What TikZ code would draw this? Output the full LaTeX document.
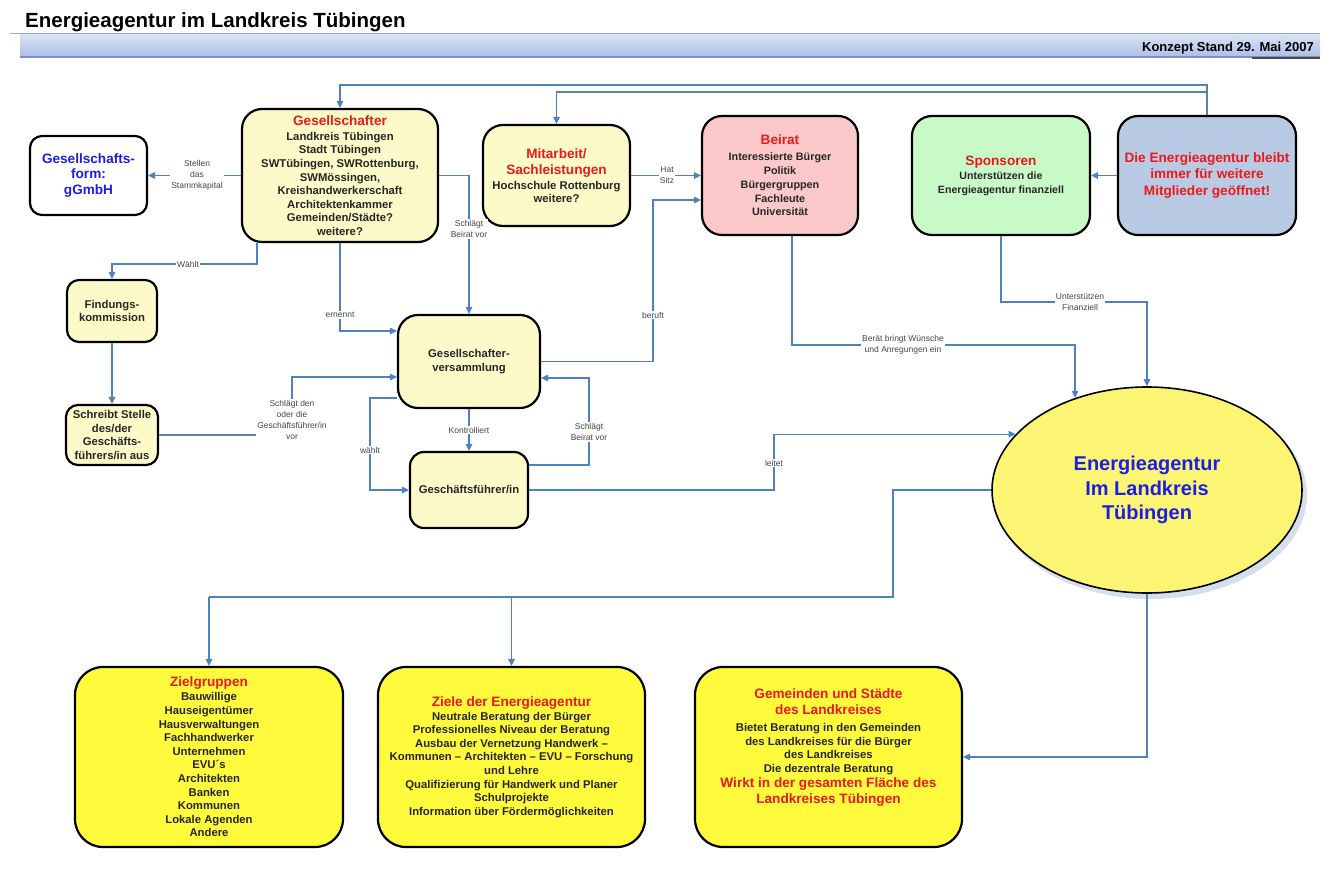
\documentclass[tikz,border=0pt]{standalone}
\usepackage{fontspec}
\setmainfont{Liberation Sans}
\usetikzlibrary{shapes.geometric,arrows.meta}
\definecolor{ablue}{RGB}{79,129,189}
\definecolor{tred}{RGB}{235,25,25}
\definecolor{tblue}{RGB}{30,30,225}
\definecolor{lyel}{RGB}{252,250,200}
\definecolor{pinkf}{RGB}{250,200,200}
\definecolor{greenf}{RGB}{200,250,200}
\definecolor{bluef}{RGB}{184,202,228}
\definecolor{yelf}{RGB}{255,250,60}
\definecolor{ellf}{RGB}{252,245,115}
\definecolor{lblc}{RGB}{70,70,70}
\definecolor{hdtop}{RGB}{218,228,245}
\definecolor{hdbot}{RGB}{172,190,230}
\definecolor{hdline}{RGB}{150,165,210}
\definecolor{hdline2}{RGB}{130,140,210}
\definecolor{shad}{RGB}{215,222,235}
\newcommand\rt[1]{{\color{tred}\fontsize{13.6}{16}\selectfont #1}}
\begin{document}
\begin{tikzpicture}[x=1pt,y=-1pt,
 box/.style={draw=black, line width=2.2pt, rounded corners=20pt, align=center, inner sep=0pt,
   font=\bfseries\fontsize{11.3}{13.6}\selectfont, text=black!85},
 txt/.style={align=center, inner sep=0pt, font=\bfseries\fontsize{11.3}{13.6}\selectfont, text=black!85},
 conn/.style={draw=ablue, line width=1.3pt, -{Triangle[length=7pt,width=6.5pt]}},
 plain/.style={draw=ablue, line width=1.3pt},
 lbl/.style={font=\fontsize{8.5}{11}\selectfont, text=lblc, fill=white, inner sep=1pt, align=center},
]
\useasboundingbox (0,0) rectangle (1330,874);
\fill[white] (0,0) rectangle (1330,874);

% header
\shade[top color=hdtop, bottom color=hdbot] (20,34) rectangle (1320,57);
\draw[hdline, line width=1pt] (10,33.5) -- (1320,33.5);
\draw[hdline2, line width=1.2pt] (20,57) -- (1320,57);
\draw[black!70, line width=2pt] (1252,58) -- (1320,58);
\node[anchor=base west, inner sep=0pt, font=\bfseries\fontsize{20.5}{24}\selectfont] (title) at (25,28) {Energieagentur im Landkreis Tübingen};
\node[anchor=base east, inner sep=0pt, font=\bfseries\fontsize{13}{15}\selectfont] (stand) at (1314,52) {Konzept Stand 29. Mai 2007};

% top row
\node[box, rounded corners=12pt, fill=white, minimum width=117pt, minimum height=79pt, text=tblue,
  font=\bfseries\fontsize{13.6}{15.5}\selectfont] (gform) at (88.5,175.5) {Gesellschafts-\\form:\\gGmbH};
\node[box, fill=lyel, minimum width=196pt, minimum height=133pt] (gesell) at (340,175.5)
 {\rt{Gesellschafter}\\[1.4pt] Landkreis Tübingen\\ Stadt Tübingen\\ SWTübingen, SWRottenburg,\\ SWMössingen,\\ Kreishandwerkerschaft\\ Architektenkammer\\ Gemeinden/Städte?\\ weitere?};
\node[box, fill=lyel, minimum width=147pt, minimum height=101pt] (mitarb) at (556.5,175.5)
 {\rt{Mitarbeit/}\\[2.4pt]\rt{Sachleistungen}\\[1.4pt] Hochschule Rottenburg\\ weitere?};
\node[box, fill=pinkf, minimum width=156pt, minimum height=119pt, font=\bfseries\fontsize{10.8}{13.8}\selectfont] (beirat) at (780,175.5)
 {\rt{Beirat}\\[2pt] Interessierte Bürger\\ Politik\\ Bürgergruppen\\ Fachleute\\ Universität};
\node[box, fill=greenf, minimum width=178pt, minimum height=119pt, font=\bfseries\fontsize{10.6}{13.4}\selectfont] (spons) at (1001,175.5)
 {\rt{Sponsoren}\\[1.4pt] Unterstützen die\\ Energieagentur finanziell};
\node[box, fill=bluef, minimum width=178pt, minimum height=119pt, text=tred, font=\bfseries\fontsize{13.6}{16.5}\selectfont] (offen) at (1207,175.5)
 {Die Energieagentur bleibt\\ immer für weitere\\ Mitglieder geöffnet!};

% middle
\node[box, rounded corners=12pt, fill=lyel, minimum width=90pt, minimum height=62pt] (find) at (112,311) {Findungs-\\kommission};
\node[box, rounded corners=12pt, fill=lyel, minimum width=92pt, minimum height=60pt] (schreibt) at (112,435) {Schreibt Stelle\\des/der\\Geschäfts-\\führers/in aus};
\node[box, fill=lyel, minimum width=142pt, minimum height=93pt] (gv) at (469,361.5) {Gesellschafter-\\versammlung};
\node[box, rounded corners=14pt, fill=lyel, minimum width=118pt, minimum height=76pt] (gf) at (469,490) {Geschäftsführer/in};
\fill[shad] (1151,495) ellipse (156 and 104);
\node[ellipse, draw=black, line width=1.6pt, fill=ellf, minimum width=310pt, minimum height=206pt, inner sep=0pt,
  align=center, text=tblue, font=\bfseries\fontsize{20}{24.5}\selectfont] (ea) at (1147,490) {Energieagentur\\Im Landkreis\\Tübingen};

% bottom
\node[box, rounded corners=28pt, fill=yelf, minimum width=268pt, minimum height=180pt] (ziel) at (209,757)
 {\rt{Zielgruppen}\\[0.4pt] Bauwillige\\ Hauseigentümer\\ Hausverwaltungen\\ Fachhandwerker\\ Unternehmen\\ EVU´s\\ Architekten\\ Banken\\ Kommunen\\ Lokale Agenden\\ Andere};
\node[box, rounded corners=28pt, fill=yelf, minimum width=267pt, minimum height=180pt] (ziele) at (511.5,757)
 {\rt{Ziele der Energieagentur}\\[0.4pt] Neutrale Beratung der Bürger\\ Professionelles Niveau der Beratung\\ Ausbau der Vernetzung Handwerk –\\ Kommunen – Architekten – EVU – Forschung\\ und Lehre\\ Qualifizierung für Handwerk und Planer\\ Schulprojekte\\ Information über Fördermöglichkeiten};
\node[box, rounded corners=28pt, fill=yelf, minimum width=267pt, minimum height=180pt] (gem) at (828.5,757) {};
\node[txt] (gemt) at ([yshift=9pt]gem.center)
 {\rt{Gemeinden und Städte}\\[2.4pt] \rt{des Landkreises}\\[3pt] Bietet Beratung in den Gemeinden\\ des Landkreises für die Bürger\\ des Landkreises\\ Die dezentrale Beratung\\[1.4pt] \rt{Wirkt in der gesamten Fläche des}\\[3pt] \rt{Landkreises Tübingen}};

% routing levels
\coordinate (yA) at (0,85);
\coordinate (yB) at (0,92);
\coordinate (yW) at (0,264);
\coordinate (xS) at (292,0);
\coordinate (yS) at (0,377);
\coordinate (yE) at (0,331);
\coordinate (xB) at (653,0);
\coordinate (yBe) at (0,200);
\coordinate (xR) at (589,0);
\coordinate (yR1) at (0,465);
\coordinate (yR2) at (0,378);
\coordinate (yWa) at (0,398);
\coordinate (xWa) at (370,0);
\coordinate (xL) at (774,0);
\coordinate (yBr) at (0,345);
\coordinate (ySp) at (0,302);
\coordinate (xD) at (893,0);
\coordinate (yD) at (0,597);
\coordinate (gw) at ([xshift=16pt]gesell.south west);
\coordinate (bs) at ([xshift=12pt]beirat.south);

% connectors
\draw[conn] (offen.north) -- (offen.north |- yA) -| (gesell.north);
\draw[conn] (offen.north |- yB) -| (mitarb.north);
\draw[conn] (offen.west) -- (spons.east);
\draw[conn] (gesell.west) -- (gform.east);
\draw[conn] (gw) -- (gw |- yW) -| (find.north);
\draw[conn] (find.south) -- (schreibt.north);
\draw[conn] (schreibt.east) -- (schreibt.east -| xS) -- (xS |- yS) -- (gv.west |- yS);
\draw[conn] (gesell.south) -- (gesell.south |- yE) -- (gv.west |- yE);
\draw[conn] (gesell.east) -| (gv.north);
\draw[conn] (mitarb.east) -- (beirat.west);
\draw[conn] (gv.east) -- (gv.east -| xB) -- (xB |- yBe) -- (beirat.west |- yBe);
\draw[conn] (gf.east |- yR1) -- (xR |- yR1) -- (xR |- yR2) -- (gv.east |- yR2);
\draw[conn] (gv.south) -- (gf.north);
\draw[conn] (gv.west |- yWa) -- (xWa |- yWa) -- (xWa |- gf.west) -- (gf.west);
\draw[conn] (gf.east) -- (gf.east -| xL) -- (xL |- ea.157) -- (ea.157);
\draw[conn] (bs) -- (bs |- yBr) -- (ea.128 |- yBr) -- (ea.128);
\draw[conn] (spons.south) -- (spons.south |- ySp) -- (ea.north |- ySp) -- (ea.north);
\draw[plain] (ea.west) -- (ea.west -| xD) -- (xD |- yD) -- (ziel.north |- yD);
\draw[conn] (ziel.north |- yD) -- (ziel.north);
\draw[conn] (ziele.north |- yD) -- (ziele.north);
\draw[conn] (ea.south) -- (ea.south |- gem.east) -- (gem.east);

% labels
\node[lbl] (l1) at (197,175) {Stellen\\das\\Stammkapital};
\node[lbl] (l2) at (188,264) {Wählt};
\node[lbl] (l3) at (292,420) {Schlägt den\\oder die\\Geschäftsführer/in\\vor};
\node[lbl] (l4) at (340,315) {ernennt};
\node[lbl] (l5) at (469,229) {Schlägt\\Beirat vor};
\node[lbl] (l6) at (667,175.5) {Hat\\Sitz};
\node[lbl] (l7) at (653,315) {beruft};
\node[lbl] (l8) at (589,432) {Schlägt\\Beirat vor};
\node[lbl] (l9) at (469,430) {Kontrolliert};
\node[lbl] (l10) at (370,450) {wählt};
\node[lbl] (l11) at (774,463) {leitet};
\node[lbl] (l12) at (903,345) {Berät bringt Wünsche\\und Anregungen ein};
\node[lbl] (l13) at (1080,302) {Unterstützen\\Finanziell};
\end{tikzpicture}
\end{document}
